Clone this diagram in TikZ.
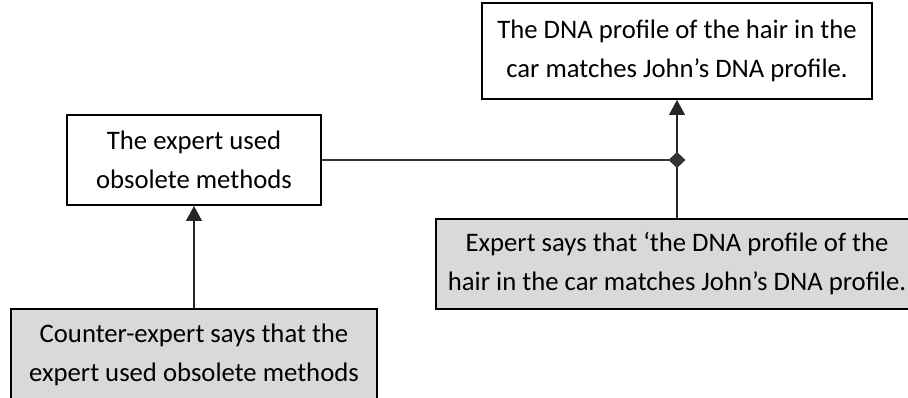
\documentclass[tikz,border=0pt]{standalone}
\usepackage{fontspec}
\setmainfont{Carlito}
\usetikzlibrary{arrows.meta}
\tikzset{
    claimbox/.style={draw=black, line width=2pt, fill=white, align=center,
        inner sep=0pt, font=\fontsize{26.7}{39}\selectfont},
    databox/.style={claimbox, fill=black!15},
    support/.style={line width=1.3pt, draw=black!85, -{Triangle[width=16pt,length=15pt]}},
    link/.style={line width=1.3pt, draw=black!80,
        -{Diamond[width=16pt,length=17pt]}, shorten >=-8.5pt}
}
\begin{document}
\begin{tikzpicture}[x=1pt, y=-1pt]
    \useasboundingbox (0,0) rectangle (908,398);
    % claims
    \node[claimbox, minimum width=390pt, minimum height=96pt] (dna) at (677,51)
        {The DNA profile of the hair in the\\car matches John's DNA profile.};
    \node[claimbox, minimum width=254pt, minimum height=90pt] (obsolete) at (194,160)
        {The expert used\\obsolete methods};
    % testimonies
    \node[databox, minimum width=482pt, minimum height=90pt] (expert) at (677,264)
        {Expert says that `the DNA profile of the\\hair in the car matches John's DNA profile.};
    \node[databox, minimum width=366pt, minimum height=92pt] (counter) at (194,355)
        {Counter-expert says that the\\expert used obsolete methods};

    % connectors
    \coordinate (junc) at (dna.south |- obsolete.east);
    \draw[support] (expert.north) -- (dna.south);
    \draw[support] (counter.north) -- (obsolete.south);
    \draw[link] (obsolete.east) -- (junc);
\end{tikzpicture}
\end{document}
